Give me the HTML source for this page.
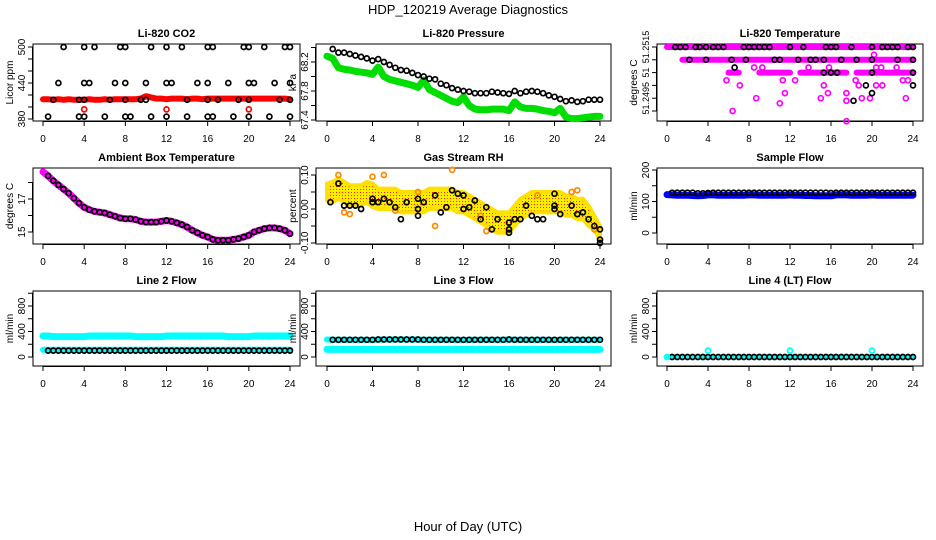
<!DOCTYPE html>
<html><head><meta charset="utf-8"><style>
html,body{margin:0;padding:0;background:#fff;}
svg{display:block;font-family:"Liberation Sans",sans-serif;}
</style></head><body>
<svg id="chart" width="936" height="540" viewBox="0 0 936 540" xmlns="http://www.w3.org/2000/svg">
<text x="468" y="14" text-anchor="middle" font-size="13">HDP_120219  Average Diagnostics</text>
<text x="468" y="531" text-anchor="middle" font-size="13">Hour of Day (UTC)</text>
</svg>
<script>
const hoursDense=[0,0.5,1,1.5,2,2.5,3,3.5,4,4.5,5,5.5,6,6.5,7,7.5,8,8.5,9,9.5,10,10.5,11,11.5,12,12.5,13,13.5,14,14.5,15,15.5,16,16.5,17,17.5,18,18.5,19,19.5,20,20.5,21,21.5,22,22.5,23,23.5,24];
const xTicks=[0,4,8,12,16,20,24];
// CO2
const co2Red=[413,413,412,413,412,413,412,412,412,413,412,412,413,412,413,413,413,413,413,414,418,416,414,414,413,414,414,414,413,414,414,413,414,414,414,414,414,414,414,414,414,414,414,414,414,414,414,414,413];
const co2BlackX=[2,4,5,7.5,8,10.5,12,13.5,16,16.5,19.5,20,21.5,23.5,24, 1.5,4,4.5,7,8,10,12,12.5,15,16,18,20,20.5,22.5,24, 1,3.5,4,6.5,8,9.5,10,14,16,17,19,20,23,24, 0.5,3.5,4,6,8,8.5,10.5,12,14,16,16.5,18.5,20,22,24];
const co2BlackY=[500,500,500,500,500,500,500,500,500,500,500,500,500,500,500, 440,440,440,440,440,440,440,440,440,440,440,440,440,440,440, 412,412,412,412,412,412,412,412,412,412,412,412,412,412, 384,384,384,384,384,384,384,384,384,384,384,384,384,384,384];
const co2RedX=[4,12,20];
const co2RedY=[396,396,396];
// Pressure
const presGreen=[68.28,68.25,68.12,68.1,68.09,68.07,68.06,68.05,68.03,68.13,68.0,67.96,67.94,67.92,67.9,67.88,67.85,67.95,67.82,67.78,67.74,67.7,67.66,67.64,67.72,67.6,67.55,67.54,67.54,67.55,67.55,67.55,67.53,67.65,67.58,67.56,67.56,67.55,67.53,67.52,67.5,67.56,67.44,67.42,67.42,67.43,67.44,67.45,67.45];
const presBlack=[null,68.38,68.33,68.33,68.31,68.29,68.27,68.25,68.22,68.24,68.2,68.16,68.12,68.09,68.08,68.05,68.02,68.0,67.97,67.96,67.9,67.88,67.84,67.82,67.8,67.79,67.77,67.77,67.77,67.79,67.78,67.77,67.76,67.8,67.77,67.79,67.8,67.79,67.77,67.74,67.72,67.69,67.66,67.67,67.65,67.66,67.68,67.68,67.68];
// Li-820 temperature
const tempL1=[51.2515,51.2515,51.2515,51.2515,51.2515,51.2515,51.2515,51.2515,51.2515,51.2515,51.2515,51.2515,51.2515,51.2515,51.2515,51.2515,51.2515,51.2515,51.2515,51.2515,51.2515,51.2515,51.2515,51.2515,51.2515,51.2515,51.2515,51.2515,51.2515,51.2515,51.2515,51.2515,51.2515,51.2515,51.2515,51.2515,51.2515,51.2515,51.2515,51.2515,51.2515,51.2515,51.2515,51.2515,51.2515,51.2515,51.2515,51.2515,51.2515];
const tempL2=[51.2510,null,null,51.2510,51.2510,51.2510,51.2510,51.2510,51.2510,51.2510,51.2510,51.2510,51.2510,51.2510,51.2510,51.2510,51.2510,51.2510,51.2510,51.2510,51.2510,51.2510,51.2510,51.2510,51.2510,51.2510,51.2510,51.2510,51.2510,51.2510,51.2510,51.2510,51.2510,51.2510,51.2510,51.2510,51.2510,51.2510,51.2510,51.2510,51.2510,51.2510,51.2510,51.2510,51.2510,51.2510,51.2510,51.2510,51.2510];
const tempL3=[null,null,null,null,null,null,null,null,null,null,null,null,51.2505,51.2505,51.2505,null,null,null,51.2505,51.2505,51.2505,51.2505,51.2505,51.2505,51.2505,null,51.2505,51.2505,51.2505,51.2505,51.2505,51.2505,51.2505,51.2505,51.2505,51.2505,null,51.2505,51.2505,51.2505,51.2505,51.2505,51.2505,51.2505,51.2505,51.2505,51.2505,51.2505,51.2505];
const tempMagX=[5.8,6.4,7.1,8.5,8.7,9.3,11,11.3,11.5,12.5,13.8,15,15.3,15.7,15.8,17.5,17.5,17.5,18.4,18.7,19,19.8,20.4,21,20.4,20.9,22.4,23,23.5,23.3,20.2];
const tempMagY=[51.2502,51.2490,51.2500,51.2507,51.2495,51.2507,51.2493,51.2502,51.2497,51.2502,51.2507,51.2495,51.2500,51.2497,51.2507,51.2497,51.2494,51.2486,51.2502,51.2500,51.2495,51.2495,51.2500,51.2500,51.2507,51.2507,51.2507,51.2502,51.2502,51.2495,51.2512];
const tempBlackX=[0.8,1.3,1.8,2.8,3.2,3.8,4.5,5,5.5,7.5,8,8.5,9,9.5,10,12,13.3,15.5,16,16.5,18,20,21,21.5,22,22.5,23.5,24, 2.2,3.8,6.3,7.7,10.5,11,12.8,14,14.5,15.3,17,18.5,20,22.5,24, 15.3,16,16.6,20,24,6.6,19.4,20,18.2,24];
const tempBlackY=[51.2515,51.2515,51.2515,51.2515,51.2515,51.2515,51.2515,51.2515,51.2515,51.2515,51.2515,51.2515,51.2515,51.2515,51.2515,51.2515,51.2515,51.2515,51.2515,51.2515,51.2515,51.2515,51.2515,51.2515,51.2515,51.2515,51.2515,51.2515, 51.2510,51.2510,51.2510,51.2510,51.2510,51.2510,51.2510,51.2510,51.2510,51.2510,51.2510,51.2510,51.2510,51.2510,51.2510, 51.2505,51.2505,51.2505,51.2505,51.2505,51.2507,51.2500,51.2497,51.2494,51.2500];
// Ambient box temperature
const ambient=[18.65,18.4,18.1,17.85,17.6,17.35,17.05,16.75,16.5,16.35,16.25,16.2,16.15,16.05,15.95,15.85,15.8,15.8,15.75,15.65,15.6,15.6,15.6,15.65,15.7,15.65,15.55,15.45,15.3,15.1,14.95,14.8,14.7,14.55,14.5,14.5,14.5,14.55,14.6,14.7,14.8,15.0,15.1,15.2,15.25,15.25,15.2,15.1,14.9];
// Gas stream RH
const rhCenter=[0.05,0.05,0.06,0.05,0.04,0.04,0.04,0.05,0.04,0.03,0.03,0.03,0.03,0.02,0.02,0.02,0.02,0.02,0.03,0.03,0.03,0.03,0.03,0.02,0.02,0.01,0.0,-0.01,-0.02,-0.03,-0.04,-0.04,-0.04,-0.02,0.0,0.01,0.02,0.02,0.02,0.02,0.02,0.02,0.01,0.01,0.0,0.0,-0.02,-0.04,-0.07];
const rhSpread=[0.025,0.03,0.03,0.03,0.03,0.03,0.03,0.03,0.035,0.03,0.03,0.03,0.03,0.03,0.03,0.03,0.03,0.03,0.03,0.03,0.03,0.03,0.03,0.03,0.03,0.03,0.03,0.03,0.03,0.03,0.03,0.03,0.03,0.03,0.03,0.03,0.03,0.03,0.03,0.03,0.03,0.03,0.03,0.03,0.03,0.03,0.03,0.02,0.02];
const rhOutX=[1,4,5,11,9.5,14,1.5,2,6,8,13.5,18.5,21.5,22,23.5];
const rhOutY=[0.1,0.095,0.1,0.115,-0.05,-0.065,-0.01,-0.015,-0.005,0.05,-0.02,0.04,0.05,0.055,-0.06];
const rhBlackX=[0.3,1,1.5,2,2.5,3,4,4,4.5,5,5.5,6,6.5,7,8,8,8,8.5,9.5,10,10.5,11,11.5,12,12,12.5,13,13.5,14,14.5,15,16,16,16,16.5,17,17.5,18,18.5,19,20,20,20,20.5,21.5,22,22.5,23,23.5,24,24,24];
const rhBlackY=[0.02,0.075,0.01,0.01,0.01,0.0,0.03,0.02,0.02,0.03,0.02,0.005,-0.03,0.02,0.03,0.0,-0.02,0.02,0.04,-0.01,0.005,0.055,0.045,0.04,0.0,0.005,0.025,-0.03,0.005,-0.06,-0.03,-0.04,-0.06,-0.07,-0.03,-0.03,0.01,-0.02,-0.03,-0.03,0.045,0.01,0.0,-0.015,0.01,-0.015,-0.01,-0.03,-0.05,-0.06,-0.09,-0.1];
// Sample flow
const sampleBlue=[122,121,120,120,120,119,118,119,121,121,120,120,120,120,120,120,121,121,120,120,120,120,120,120,121,120,120,119,119,118,118,118,118,121,121,121,120,120,120,120,121,120,120,120,120,120,120,120,120];
const sampleBlack=[null,128,128,128,128,128,126,126,127,128,128,128,128,128,128,128,128,128,128,128,128,128,128,128,128,128,128,128,128,128,128,128,127,128,128,128,128,128,128,128,128,128,128,128,128,128,128,128,128];
// Line 2 flow
const l2CyanHigh=[330,330,320,320,320,320,320,320,320,330,330,330,330,330,330,330,330,330,320,320,320,320,320,320,330,330,330,330,330,330,330,330,330,330,330,330,320,320,320,320,320,330,330,330,330,330,330,330,330];
const l2CyanLow=[115,115,115,115,115,115,115,115,115,115,115,115,115,115,115,115,115,115,115,115,115,115,115,115,115,115,115,115,115,115,115,115,115,115,115,115,115,115,115,115,115,115,115,115,115,115,115,115,115];
const l2Black=[null,100,100,100,100,100,100,100,100,100,100,100,100,100,100,100,100,100,100,100,100,100,100,100,100,100,100,100,100,100,100,100,100,100,100,100,100,100,100,100,100,100,100,100,100,100,100,100,100];
// Line 3 flow
const l3CyanLow=[120,120,120,120,120,120,120,120,120,120,120,120,120,120,120,120,120,120,120,120,120,120,120,120,120,120,120,120,120,120,120,120,120,120,120,120,120,120,120,120,120,120,120,120,120,120,120,120,120];
const l3CyanHigh=[275,270,270,270,270,270,270,270,265,275,275,275,275,275,275,275,275,270,270,270,270,270,270,270,265,270,270,270,270,270,270,270,275,270,270,270,270,270,270,270,265,270,270,270,270,270,270,270,270];
const l3Black=[null,270,270,270,270,270,270,270,270,275,275,275,275,275,275,275,275,270,270,270,270,270,270,270,270,270,270,270,270,270,270,270,275,270,270,270,270,270,270,270,270,270,270,270,270,270,270,270,270];
// Line 4 flow
const l4Black=[null,0,0,0,0,0,0,0,0,0,0,0,0,0,0,0,0,0,0,0,0,0,0,0,0,0,0,0,0,0,0,0,0,0,0,0,0,0,0,0,0,0,0,0,0,0,0,0,0];
const l4CyanX=[0,4,12,20];
const l4CyanY=[0,100,100,100];

const NS='http://www.w3.org/2000/svg';
const svg=document.getElementById('chart');
function mk(tag,attrs,parent){const e=document.createElementNS(NS,tag);for(const k in attrs)e.setAttribute(k,attrs[k]);(parent||svg).appendChild(e);return e;}

function panel(cfg){
  const g=mk('g',{});
  
  
  const [L,T,R,B]=cfg.box;
  const xs=h=>cfg.x0+(cfg.x24-cfg.x0)*h/24;
  const ys=v=>cfg.py0+(cfg.py1-cfg.py0)*(v-cfg.v0)/(cfg.v1-cfg.v0);
  const t=mk('text',{x:(L+R)/2,y:T-7,'text-anchor':'middle','font-size':'11','font-weight':'bold'},g);
  t.textContent=cfg.title;
  
  
  const box=mk('rect',{x:L,y:T,width:R-L,height:B-T,fill:'none',stroke:'#000','stroke-width':1},g);
  
  
  const ax=mk('g',{},g);
  
  
  mk('line',{x1:xs(0),x2:xs(24),y1:B+0.5,y2:B+0.5,stroke:'#000'},ax);
  xTicks.forEach(h=>{
    mk('line',{x1:xs(h),x2:xs(h),y1:B,y2:B+5,stroke:'#000'},ax);
    const tl=mk('text',{x:xs(h),y:B+21,'text-anchor':'middle','font-size':'10'},ax);
    tl.textContent=h;
  });
  const ay=mk('g',{},g);
  
  
  const yt=cfg.yTicks;
  mk('line',{x1:L-0.5,x2:L-0.5,y1:ys(yt[0]),y2:ys(yt[yt.length-1]),stroke:'#000'},ay);
  const fs=cfg.tickFont||10;
  yt.forEach((v,i)=>{
    const y=ys(v);
    mk('line',{x1:L-5,x2:L,y1:y,y2:y,stroke:'#000'},ay);
    if(cfg.yLabels[i]!==''){
      const tl=mk('text',{x:L-8,y:y,'text-anchor':'middle','font-size':fs,transform:`rotate(-90 ${L-8} ${y})`},ay);
      tl.textContent=cfg.yLabels[i];
    }
  });
  const yl=mk('text',{x:L-20,y:(T+B)/2,'text-anchor':'middle','font-size':'10',transform:`rotate(-90 ${L-20} ${(T+B)/2})`},g);
  yl.textContent=cfg.ylab;
  
  
  return {g,xs,ys};
}
function band(p,xsArr,vals,color,w,name){
  let d='';let pen=false;
  vals.forEach((v,i)=>{if(v===null){pen=false;return;}d+=(pen?'L':'M')+p.xs(xsArr[i]).toFixed(1)+' '+p.ys(v).toFixed(1);pen=true;});
  const e=mk('path',{d:d,fill:'none',stroke:color,'stroke-width':w,'stroke-linecap':'round','stroke-linejoin':'round'},p.g);
  
  
}
function dots(p,xsArr,vals,color,r,sw,name){
  const gg=mk('g',{},p.g);
  
  
  vals.forEach((v,i)=>{if(v===null)return;
    mk('circle',{cx:p.xs(xsArr[i]).toFixed(1),cy:p.ys(v).toFixed(1),r:r,fill:'none',stroke:color,'stroke-width':sw},gg);
  });
}
const col=[{x0:43,x24:290,L:33,R:300},{x0:327,x24:600,L:316,R:611},{x0:667,x24:913,L:657,R:923}];
const rows=[[44,121],[168,244],[291,366]];
function cfgFor(ci,ri,o){return Object.assign({box:[col[ci].L,rows[ri][0],col[ci].R,rows[ri][1]],x0:col[ci].x0,x24:col[ci].x24},o);}

// 1 CO2
let p=panel(cfgFor(0,0,{name:'co2-panel',title:'Li-820 CO2',ylab:'Licor ppm',v0:380,v1:500,py0:119,py1:47,yTicks:[380,400,420,440,460,480,500],yLabels:['380','','','440','','','500']}));
band(p,hoursDense,co2Red,'#ff0000',6,'co2-red-series');
dots(p,co2BlackX,co2BlackY,'#000',2.5,1.7,'co2-black-series');
dots(p,co2RedX,co2RedY,'#ff0000',2.5,1.7,'co2-red-outliers');
// 2 Pressure
p=panel(cfgFor(1,0,{name:'pressure-panel',title:'Li-820 Pressure',ylab:'kPa',v0:67.4,v1:68.2,py0:120,py1:62,yTicks:[67.4,67.6,67.8,68.0,68.2,68.4],yLabels:['67.4','','67.8','','68.2','']}));
band(p,hoursDense,presGreen,'#00dd00',7,'pressure-green-series');
dots(p,hoursDense,presBlack,'#000',2.5,1.7,'pressure-black-series');
// 3 Temperature
p=panel(cfgFor(2,0,{name:'li820-temperature-panel',title:'Li-820 Temperature',ylab:'degrees C',tickFont:9,v0:51.2490,v1:51.2515,py0:111,py1:47,yTicks:[51.2490,51.2495,51.2500,51.2505,51.2510,51.2515],yLabels:['','51.2495','','51','','51.2515']}));
band(p,hoursDense,tempL1,'#ff00ff',6,'temp-magenta-level-1');
band(p,hoursDense,tempL2,'#ff00ff',6,'temp-magenta-level-2');
band(p,hoursDense,tempL3,'#ff00ff',6,'temp-magenta-level-3');
dots(p,tempMagX,tempMagY,'#ff00ff',2.5,1.7,'temp-magenta-scatter');
dots(p,tempBlackX,tempBlackY,'#000',2.5,1.7,'temp-black-series');
// 4 Ambient
p=panel(cfgFor(0,1,{name:'ambient-temperature-panel',title:'Ambient Box Temperature',ylab:'degrees C',v0:15,v1:17,py0:232,py1:199,yTicks:[15,16,17,18],yLabels:['15','','17','']}));
band(p,hoursDense,ambient,'#ff00ff',7,'ambient-magenta-series');
dots(p,hoursDense.slice(1),ambient.slice(1),'#000',2.5,1.7,'ambient-black-series');
// 5 RH
p=panel(cfgFor(1,1,{name:'gas-rh-panel',title:'Gas Stream RH',ylab:'percent',v0:0,v1:0.1,py0:209,py1:175,yTicks:[-0.10,-0.05,0.00,0.05,0.10],yLabels:['-0.10','','0.00','','0.10']}));
(function(){
  let d='';
  rhCenter.forEach((v,i)=>{d+=(i?'L':'M')+p.xs(hoursDense[i]).toFixed(1)+' '+p.ys(v+rhSpread[i]).toFixed(1);});
  for(let i=rhCenter.length-1;i>=0;i--){d+='L'+p.xs(hoursDense[i]).toFixed(1)+' '+p.ys(rhCenter[i]-rhSpread[i]).toFixed(1);}
  d+='Z';
  const pat=mk('pattern',{id:'rhpat',width:3,height:3,patternUnits:'userSpaceOnUse'},p.g);
  mk('rect',{width:3,height:3,fill:'#ffee00'},pat);
  mk('rect',{width:1,height:1,fill:'#ff2200'},pat);
  const e=mk('path',{d:d,fill:'url(#rhpat)',stroke:'#ffe000','stroke-width':4,'stroke-linejoin':'round'},p.g);
  
  
})();
dots(p,rhOutX,rhOutY,'#ff8800',2.5,1.7,'rh-orange-outliers');
dots(p,rhBlackX,rhBlackY,'#000',2.5,1.7,'rh-black-series');
// 6 Sample flow
p=panel(cfgFor(2,1,{name:'sample-flow-panel',title:'Sample Flow',ylab:'ml/min',v0:0,v1:200,py0:233,py1:170,yTicks:[0,50,100,150,200],yLabels:['0','','100','','200']}));
band(p,hoursDense,sampleBlue,'#0000ff',7,'sample-blue-series');
dots(p,hoursDense,sampleBlack,'#000',2.5,1.7,'sample-black-series');
// 7-9 flows
const flowT={v0:0,v1:800,py0:357,py1:306,yTicks:[0,200,400,600,800,1000],yLabels:['0','','400','','800',''],ylab:'ml/min'};
p=panel(cfgFor(0,2,Object.assign({name:'line2-flow-panel',title:'Line 2 Flow'},flowT)));
band(p,hoursDense,l2CyanHigh,'#00ffff',7,'line2-cyan-high');
band(p,hoursDense,l2CyanLow,'#00ffff',6,'line2-cyan-low');
dots(p,hoursDense,l2Black,'#000',2.5,1.7,'line2-black-series');
p=panel(cfgFor(1,2,Object.assign({name:'line3-flow-panel',title:'Line 3 Flow'},flowT)));
band(p,hoursDense,l3CyanLow,'#00ffff',7,'line3-cyan-low');
band(p,hoursDense,l3CyanHigh,'#00ffff',6,'line3-cyan-high');
dots(p,hoursDense,l3Black,'#000',2.5,1.7,'line3-black-series');
p=panel(cfgFor(2,2,Object.assign({name:'line4-flow-panel',title:'Line 4 (LT) Flow'},flowT)));
band(p,hoursDense,l4Black.map(v=>v===null?0:v),'#00ffff',3,'line4-cyan-base');
dots(p,hoursDense,l4Black,'#000',2.5,1.7,'line4-black-series');
dots(p,l4CyanX,l4CyanY,'#00ffff',2.5,1.8,'line4-cyan-spikes');
</script>
</body></html>
